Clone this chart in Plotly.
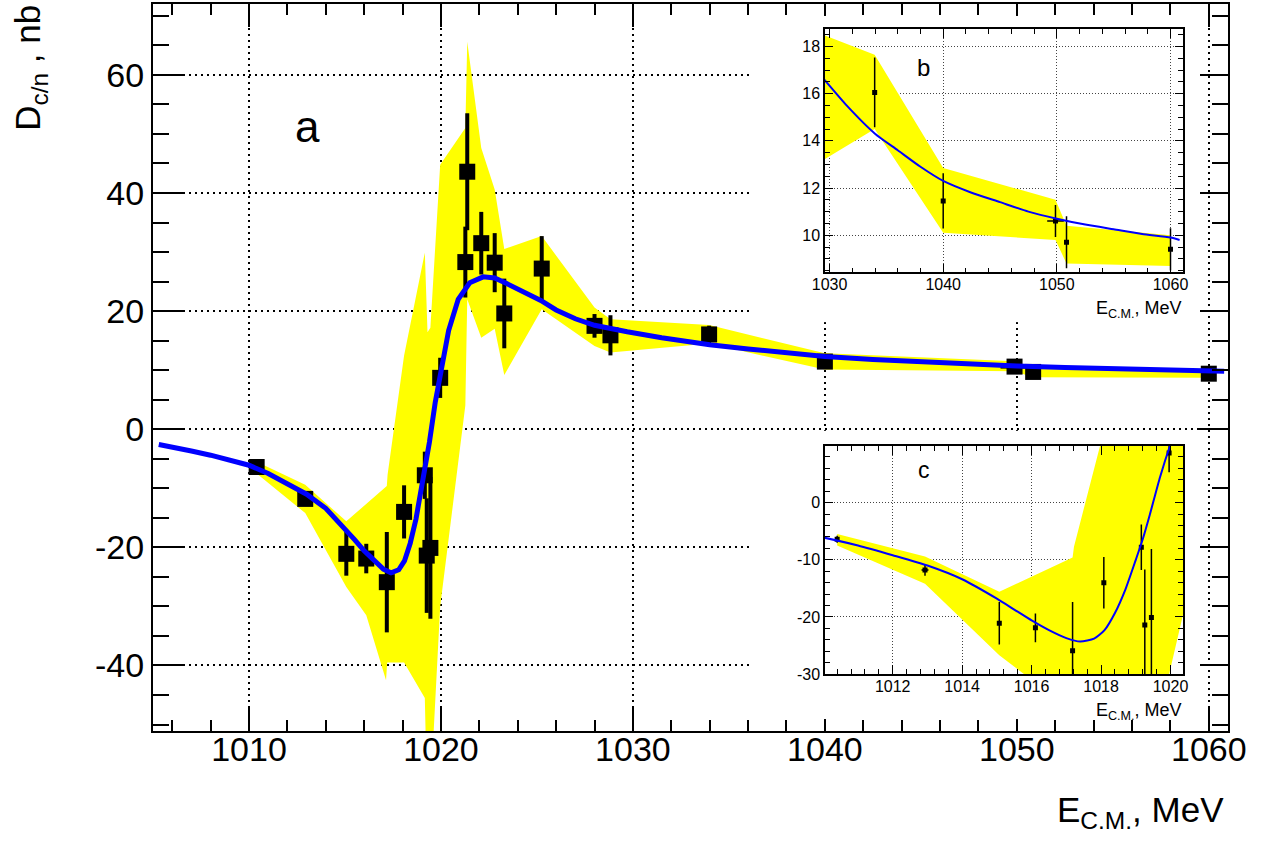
import plotly.graph_objects as go

# ---------------- data ----------------
energy = [1010.40, 1012.93, 1015.07, 1016.11, 1017.18, 1018.08, 1019.16, 1019.26,
          1019.45, 1019.96, 1021.27, 1021.37, 1022.10, 1022.80, 1023.30, 1025.25,
          1028.00, 1028.83, 1033.97, 1040.00, 1049.88, 1050.85, 1060.00]
d_cn = [-6.4, -11.8, -21.1, -21.9, -25.9, -14.0, -7.8, -21.4,
        -20.1, 8.7, 28.3, 43.6, 31.5, 28.2, 19.6, 27.2,
        17.5, 15.9, 16.05, 11.45, 10.6, 9.7, 9.4]
d_cn_err = [0.6, 1.0, 3.7, 2.5, 8.5, 4.5, 4.0, 9.7,
            12.0, 3.4, 6.0, 9.9, 5.3, 5.0, 5.9, 5.5,
            2.0, 3.4, 1.48, 1.17, 0.68, 1.1, 0.9]
energy_err = [0.0, 0.1, 0.0, 0.0, 0.0, 0.0, 0.0, 0.0,
              0.0, 0.0, 0.0, 0.0, 0.0, 0.0, 0.0, 0.0,
              0.0, 0.0, 0.0, 0.0, 0.73, 0.0, 0.0]

band_hi_x = [1010.40, 1012.93, 1015.07, 1016.11, 1017.18, 1017.22, 1018.08, 1019.16,
             1019.30, 1019.45, 1019.96, 1021.27, 1021.37, 1022.10, 1022.80, 1023.30,
             1025.25, 1028.00, 1028.83, 1033.97, 1040.00, 1049.88, 1050.85, 1060.00]
band_hi_y = [-5.5, -9.4, -15.6, -12.6, -9.6, -7.7, 12.5, 29.9,
             16.4, 17.2, 44.8, 51.0, 65.6, 47.6, 40.6, 30.5,
             32.7, 20.6, 18.6, 17.65, 12.85, 11.5, 10.4, 10.0]
band_lo_x = [1010.40, 1012.93, 1015.07, 1016.11, 1017.14, 1017.20, 1018.08, 1019.16,
             1019.26, 1019.48, 1019.96, 1021.27, 1021.37, 1022.10, 1022.80, 1023.30,
             1025.25, 1028.00, 1028.83, 1033.97, 1040.00, 1049.88, 1050.85, 1060.00]
band_lo_y = [-7.5, -14.2, -26.7, -31.5, -42.5, -39.5, -39.5, -45.5,
             -60.0, -60.0, -30.0, 4.0, 22.0, 15.5, 17.0, 9.2,
             20.3, 14.1, 13.0, 14.5, 10.1, 9.8, 8.8, 8.7]

fit_x = [1005.3, 1006.0, 1007.0, 1008.0, 1009.0, 1010.0, 1011.0, 1012.0, 1013.0,
         1014.0, 1015.0, 1015.5, 1016.0, 1016.5, 1017.0, 1017.4, 1017.8, 1018.1,
         1018.4, 1018.7, 1019.0, 1019.2, 1019.4, 1019.7, 1020.0, 1020.4, 1020.9,
         1021.5, 1022.2, 1022.8, 1023.4, 1024.2, 1025.2, 1026.0, 1027.0, 1028.0,
         1029.0, 1029.7, 1031.5, 1034.0, 1036.0, 1038.0, 1040.0, 1042.5, 1045.0,
         1047.5, 1050.0, 1052.5, 1055.0, 1057.5, 1060.0, 1060.8]
fit_y = [-2.6, -3.0, -3.7, -4.4, -5.2, -6.1, -7.5, -9.2, -11.0,
         -13.4, -16.8, -18.7, -20.6, -22.3, -23.7, -24.3, -23.8, -22.3,
         -19.3, -15.2, -10.0, -6.4, -2.2, 4.5, 10.2, 16.7, 22.0,
         24.8, 25.8, 25.6, 24.7, 23.4, 21.8, 20.2, 18.7, 17.6,
         16.9, 16.5, 15.5, 14.3, 13.6, 12.9, 12.3, 11.8, 11.4,
         11.0, 10.7, 10.45, 10.25, 10.05, 9.9, 9.8]

# tick labels (ROOT style hyphen minus)
main_y_tickvals = [-40, -20, 0, 20, 40, 60]
main_y_ticktext = ["-40", "-20", "0", "20", "40", "60"]
inset_c_y_tickvals = [-30, -20, -10, 0]
inset_c_y_ticktext = ["-30", "-20", "-10", "0"]

# ---------------- geometry helpers ----------------
W, H = 1281, 842
L, R, T, B = 153, 53, 2, 111
PW, PH = W - L - R, H - T - B


def fx(p):
    return (p - L) / PW


def fy(p):
    return (H - B - p) / PH


FONT = "Liberation Sans, Arial, Helvetica, sans-serif"
YELLOW = "#ffff00"
BLUE = "#0000ff"

band_x = band_hi_x + band_lo_x[::-1]
band_y = band_hi_y + band_lo_y[::-1]

fig = go.Figure()


def add_panel(xa, ya, msize, ethick, lw, shape):
    fig.add_trace(go.Scatter(x=band_x, y=band_y, mode="lines", fill="toself",
                             fillcolor=YELLOW, line=dict(width=0, color=YELLOW),
                             hoverinfo="skip", showlegend=False, xaxis=xa, yaxis=ya))
    fig.add_trace(go.Scatter(x=energy, y=d_cn, mode="markers",
                             marker=dict(symbol="square", size=msize, color="black",
                                         line=dict(width=0)),
                             error_y=dict(type="data", array=d_cn_err, visible=True,
                                          thickness=ethick, width=0, color="black"),
                             error_x=dict(type="data", array=energy_err, visible=True,
                                          thickness=ethick, width=0, color="black"),
                             showlegend=False, xaxis=xa, yaxis=ya))
    fig.add_trace(go.Scatter(x=fit_x, y=fit_y, mode="lines",
                             line=dict(color=BLUE, width=lw, shape=shape, smoothing=0.6),
                             showlegend=False, xaxis=xa, yaxis=ya))


def add_pad(xa, ya):
    fig.add_trace(go.Scatter(x=[-1], y=[-1], mode="markers", marker=dict(opacity=0),
                             hoverinfo="skip", showlegend=False, xaxis=xa, yaxis=ya))


add_panel("x", "y", 16, 4, 5, "linear")
add_pad("x2", "y2")
add_panel("x3", "y3", 5, 1.5, 2, "spline")
add_pad("x4", "y4")
add_panel("x5", "y5", 5, 1.5, 2, "spline")


def axis(**kw):
    base = dict(ticks="inside", tickcolor="black", showline=True, linecolor="black",
                mirror="ticks", zeroline=False, showgrid=True, gridcolor="black")
    base.update(kw)
    return base


def pad_axis(**kw):
    base = dict(range=[0, 1], showticklabels=False, showgrid=False, zeroline=False,
                showline=False, ticks="", fixedrange=True)
    base.update(kw)
    return base


def minor(dt, t0, ln, w):
    return dict(dtick=dt, tick0=t0, ticklen=ln, tickwidth=w, tickcolor="black",
                ticks="inside", showgrid=False)


INSET_GRID = dict(gridcolor="#444444", gridwidth=1, griddash="1px,2px")

fig.update_layout(
    width=W, height=H,
    margin=dict(l=L, r=R, t=T, b=B, pad=0),
    paper_bgcolor="white", plot_bgcolor="white",
    font=dict(family=FONT, color="black"),
    showlegend=False,
    xaxis=axis(domain=[0, 1], anchor="y", range=[1005, 1061], dtick=10, tick0=1000,
               ticklen=23, tickwidth=2, linewidth=2, gridwidth=2, griddash="2px,4px",
               minor=minor(2, 1000, 11, 2), tickfont=dict(size=34, family=FONT),
               ticklabelstandoff=-13),
    yaxis=axis(domain=[0, 1], anchor="x", range=[-51.1, 72.0],
               tickmode="array", tickvals=main_y_tickvals, ticktext=main_y_ticktext,
               ticklen=31, tickwidth=2, linewidth=2, gridwidth=2, griddash="2px,4px",
               minor=minor(5, 0, 16, 2), tickfont=dict(size=34, family=FONT)),
    xaxis2=pad_axis(domain=[fx(752), fx(1200)], anchor="y2"),
    yaxis2=pad_axis(domain=[fy(321), fy(14)], anchor="x2"),
    xaxis3=axis(domain=[fx(825), fx(1183)], anchor="y3", range=[1029.6, 1061.1],
                dtick=10, tick0=1000, ticklen=9, tickwidth=1, linewidth=1.5,
                minor=minor(2, 1000, 5, 1), tickfont=dict(size=16, family=FONT),
                ticklabelstandoff=-3, **INSET_GRID),
    yaxis3=axis(domain=[fy(271), fy(27)], anchor="x3", range=[8.43, 18.74],
                dtick=2, tick0=0, ticklen=8, tickwidth=1, linewidth=1.5,
                minor=minor(0.5, 0, 5, 1), tickfont=dict(size=16, family=FONT),
                **INSET_GRID),
    xaxis4=pad_axis(domain=[fx(752), fx(1200)], anchor="y4"),
    yaxis4=pad_axis(domain=[fy(719), fy(430)], anchor="x4"),
    xaxis5=axis(domain=[fx(825), fx(1183)], anchor="y5", range=[1010.05, 1020.36],
                dtick=2, tick0=1000, ticklen=9, tickwidth=1, linewidth=1.5,
                minor=minor(0.4, 1000, 5, 1), tickfont=dict(size=16, family=FONT),
                ticklabelstandoff=-3, **INSET_GRID),
    yaxis5=axis(domain=[fy(674), fy(445)], anchor="x5", range=[-30, 9.95],
                tickmode="array", tickvals=inset_c_y_tickvals, ticktext=inset_c_y_ticktext,
                ticklen=8, tickwidth=1, linewidth=1.5,
                minor=minor(2, 0, 5, 1), tickfont=dict(size=16, family=FONT),
                **INSET_GRID),
)

annots = [
    dict(text="E<sub>C.M.</sub>, MeV", xref="paper", yref="paper", x=fx(1226), y=fy(812),
         xanchor="right", yanchor="middle", font=dict(size=35, family=FONT)),
    dict(text="D<sub>c/n</sub> , nb", xref="paper", yref="paper", x=fx(30), y=fy(66),
         xanchor="center", yanchor="middle", textangle=-90, font=dict(size=35, family=FONT)),
    dict(text="a", xref="x", yref="y", x=1013.07, y=51.2, font=dict(size=44, family=FONT)),
    dict(text="b", xref="x3", yref="y3", x=1038.3, y=17.1, font=dict(size=24, family=FONT)),
    dict(text="c", xref="x5", yref="y5", x=1012.89, y=5.76, font=dict(size=23, family=FONT)),
    dict(text="E<sub>C.M.</sub>, MeV", xref="paper", yref="paper", x=fx(1184), y=fy(308),
         xanchor="right", yanchor="middle", font=dict(size=18, family=FONT)),
    dict(text="E<sub>C.M.</sub>, MeV", xref="paper", yref="paper", x=fx(1184), y=fy(711),
         xanchor="right", yanchor="middle", font=dict(size=18, family=FONT)),
]
for a in annots:
    a.setdefault("showarrow", False)
fig.update_layout(annotations=annots)

fig.write_html("out.html", config={"displayModeBar": False},
               post_script="document.body.style.margin='0px';")
